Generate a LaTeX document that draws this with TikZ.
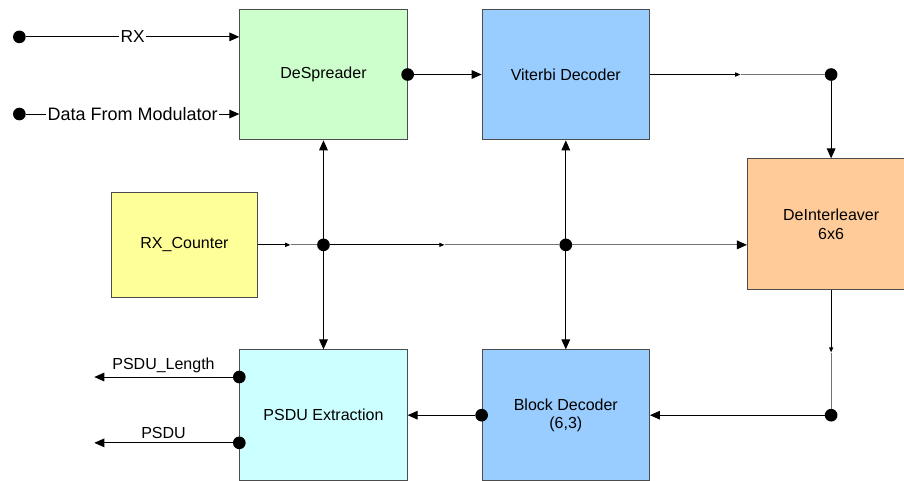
\documentclass[tikz,border=0pt]{standalone}
\usepackage{fontspec}
\setmainfont{Liberation Sans}
\usetikzlibrary{arrows.meta,positioning,calc}
\definecolor{dspgreen}{HTML}{CCFFCC}
\definecolor{decblue}{HTML}{99CCFF}
\definecolor{intorange}{HTML}{FFCC99}
\definecolor{cntyellow}{HTML}{FFFF99}
\definecolor{extcyan}{HTML}{CCFFFF}

\begin{document}
\begin{tikzpicture}[
        font=\fontsize{12}{14}\selectfont,
        blk/.style={draw=black!70, line width=0.75pt, fill=#1, align=center,
            minimum width=125.5pt, minimum height=98pt, inner sep=2pt},
        line/.style={-{Triangle[length=7.5pt,width=6.5pt]}, line width=0.7pt},
        biline/.style={{Triangle[length=7.5pt,width=6.5pt]}-{Triangle[length=7.5pt,width=6.5pt]}, line width=0.7pt},
        leadin/.style={-{Triangle[length=4pt,width=3pt]}, line width=0.95pt},
        leadout/.style={draw=black!55, line width=0.75pt},
        dot/.style={circle, fill=black, inner sep=0pt, minimum size=9.5pt}]
    \useasboundingbox (0,0) rectangle (678pt,-360.75pt);

    % processing blocks
    \node[blk=dspgreen] (ds) at (242.6pt,-55.9pt) {DeSpreader};
    \node[blk=decblue, right=55.5pt of ds] (vd) {Viterbi Decoder};
    \node[blk=intorange, below right=13.5pt and 72.75pt of vd.south east] (di) {DeInterleaver\\6x6};
    \node[blk=extcyan, below=156.75pt of ds] (pe) {PSDU Extraction};
    \node[blk=decblue, right=55.5pt of pe] (bd) {Block Decoder\\(6,3)};
    \node[blk=cntyellow, minimum width=109pt, minimum height=79pt]
        (rc) at ($(ds.south)!0.5!(pe.north)+(-104.25pt,0)$) {RX\_Counter};

    % junctions
    \node[dot] (j1) at (ds |- rc) {};
    \node[dot] (j2) at (vd |- rc) {};
    \node[dot] (j3) at (di |- vd) {};
    \node[dot] (j4) at (di |- bd) {};
    \node[dot] (dsout) at (ds.east) {};
    \node[dot] (bdout) at (bd.west) {};

    % inputs
    \coordinate (rxin) at ($(ds.north west)!0.214!(ds.south west)$);
    \coordinate (modin) at ($(ds.north west)!0.8!(ds.south west)$);
    \node[dot, left=160pt of rxin] (rxsrc) {};
    \node[dot, left=160pt of modin] (modsrc) {};
    \draw[line] (rxsrc) -- (rxin) node[midway, fill=white, inner sep=1pt, font=\fontsize{13}{15}\selectfont] {RX};
    \draw[line] (modsrc) -- (modin) node[midway, fill=white, inner sep=1pt, font=\fontsize{13.5}{15}\selectfont] {Data From Modulator};

    % outputs
    \node[dot] (lensrc) at ($(pe.north west)!0.21!(pe.south west)$) {};
    \node[dot] (psdusrc) at ($(pe.north west)!0.71!(pe.south west)$) {};
    \coordinate[left=108.75pt of lensrc.center] (lenend);
    \coordinate[left=108.75pt of psdusrc.center] (psduend);
    \draw[line] (lensrc) -- (lenend) node[midway, above, inner sep=2.5pt] {PSDU\_Length};
    \draw[line] (psdusrc) -- (psduend) node[midway, above, inner sep=2.5pt] {PSDU};

    % data path
    \draw[line] (dsout) -- (vd.west);
    \foreach \a/\b in {rc.east/j1, j1/j2, vd.east/j3, di.south/j4} {
        \draw[leadin] (\a) -- ($(\a)!0.5!(\b)$);
        \draw[leadout] ($(\a)!0.5!(\b)$) -- (\b);
    }
    \draw[leadout, -{Triangle[length=7.5pt,width=6.5pt,color=black]}] (j2) -- (j2 -| di.west);
    \draw[line] (j3) -- (di.north);
    \draw[line] (j4) -- (bd.east);
    \draw[line] (bdout) -- (pe.east);

    % counter distribution
    \draw[biline] (ds.south) -- (pe.north);
    \draw[biline] (vd.south) -- (bd.north);
\end{tikzpicture}
\end{document}
